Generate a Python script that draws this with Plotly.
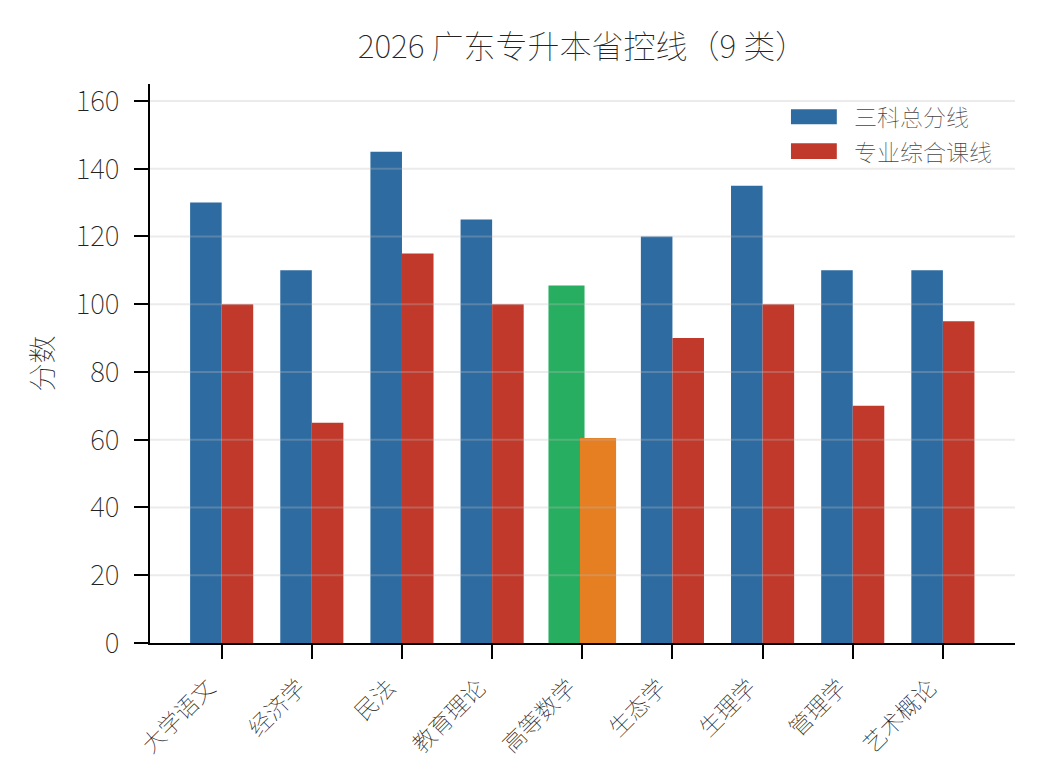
import plotly.graph_objects as go

categories = ["大学语文", "经济学", "民法", "教育理论", "高等数学", "生态学", "生理学", "管理学", "艺术概论"]
total_line = [130, 110, 145, 125, 105.5, 120, 135, 110, 110]
major_line = [100, 65, 115, 100, 60.5, 90, 100, 70, 95]
series_names = ["三科总分线", "专业综合课线"]
highlight = "高等数学"
y_ticks = [0, 20, 40, 60, 80, 100, 120, 140, 160]
title_text = "2026 广东专升本省控线（9 类）"
y_title = "分数"

BLUE = "#2e6ba1"
RED = "#c0392b"
GREEN = "#27ae60"
ORANGE = "#e67e22"
FONT = "Noto Sans CJK SC"
WT = 100

w, wh = 0.35, 0.40
blue_col = [GREEN if c == highlight else BLUE for c in categories]
red_col = [ORANGE if c == highlight else RED for c in categories]
blue_w = [wh if c == highlight else w for c in categories]
red_w = [wh if c == highlight else w for c in categories]
blue_off = [-(w / 2) - bw / 2 for bw in blue_w]
red_off = [(w / 2) - rw / 2 for rw in red_w]

fig = go.Figure()
fig.add_trace(go.Bar(x=categories, y=total_line, name=series_names[0],
                     marker=dict(color=blue_col, line=dict(width=0)),
                     width=blue_w, offset=blue_off, showlegend=False))
fig.add_trace(go.Bar(x=categories, y=major_line, name=series_names[1],
                     marker=dict(color=red_col, line=dict(width=0)),
                     width=red_w, offset=red_off, showlegend=False))

# gridlines drawn above bars (semi-transparent)
for t in y_ticks[1:]:
    fig.add_shape(type="line", xref="paper", yref="y", x0=0, x1=1, y0=t, y1=t,
                  line=dict(color="rgba(190,190,190,0.3)", width=2), layer="above")

# manual legend
legend_items = [(series_names[0], BLUE, 0.955, 0.928, 0.942),
                (series_names[1], RED, 0.894, 0.866, 0.880)]
for name, col, y0, y1, ym in legend_items:
    fig.add_shape(type="rect", xref="paper", yref="paper", x0=0.741, x1=0.794,
                  y0=y1, y1=y0, fillcolor=col, line=dict(width=0))
    fig.add_annotation(xref="paper", yref="paper", x=0.812, y=ym, text=name,
                       showarrow=False, xanchor="left", yanchor="middle",
                       font=dict(family=FONT, size=23, color="#444", weight=WT))

fig.update_layout(
    width=1044, height=779,
    margin=dict(l=142, r=37, t=76, b=144),
    paper_bgcolor="white", plot_bgcolor="white",
    barmode="overlay",
    font=dict(family=FONT, color="#222", weight=WT),
    title=dict(text=title_text, x=0.5, xref="paper", xanchor="center",
               y=1 - 39 / 779, yref="container", yanchor="middle",
               font=dict(family=FONT, size=32, color="#222", weight=WT)),
    xaxis=dict(range=[-0.795, 8.8], showline=True, linecolor="black", linewidth=2,
               ticks="outside", ticklen=14, tickwidth=2, tickcolor="black",
               tickangle=-45, showgrid=False, zeroline=False,
               ticklabelshift=-13, ticklabelstandoff=6,
               tickfont=dict(family=FONT, size=23, color="#222", weight=WT)),
    yaxis=dict(range=[0, 165], showline=True, linecolor="black", linewidth=2,
               ticks="outside", ticklen=14, tickwidth=2, tickcolor="black",
               tickvals=y_ticks, showgrid=False, zeroline=False,
               ticklabelstandoff=9,
               tickfont=dict(family=FONT, size=28, color="#222", weight=WT),
               title=dict(text=y_title, standoff=14,
                          font=dict(family=FONT, size=28, color="#222", weight=WT))),
)

fig.write_html("out.html")
